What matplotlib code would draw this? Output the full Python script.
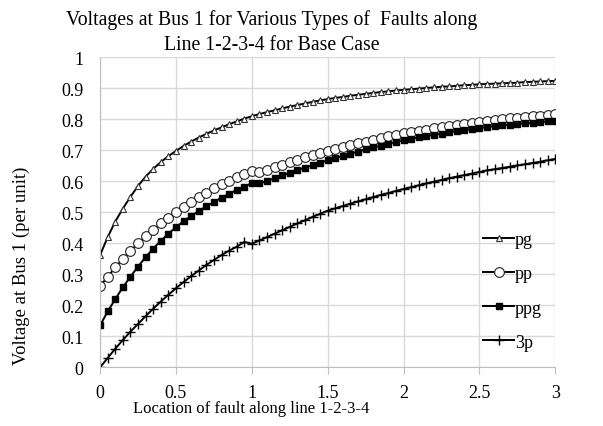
import numpy as np
import matplotlib.pyplot as plt

# fault location along line 1-2-3-4 (every 0.05)
location = np.round(np.arange(61) * 0.05, 2)

pg = [0.362, 0.420, 0.470, 0.512, 0.550, 0.585, 0.615, 0.640, 0.662, 0.681,
      0.698, 0.714, 0.728, 0.741, 0.753, 0.764, 0.774, 0.784, 0.793, 0.802,
      0.810, 0.817, 0.823, 0.829, 0.835, 0.841, 0.846, 0.851, 0.856, 0.861,
      0.865, 0.869, 0.872, 0.876, 0.879, 0.882, 0.885, 0.888, 0.890, 0.893,
      0.895, 0.897, 0.899, 0.901, 0.903, 0.905, 0.906, 0.908, 0.910, 0.911,
      0.913, 0.914, 0.915, 0.916, 0.917, 0.918, 0.920, 0.921, 0.922, 0.923,
      0.924]
pp = [0.262, 0.292, 0.322, 0.350, 0.376, 0.400, 0.423, 0.444, 0.464, 0.483,
      0.501, 0.518, 0.534, 0.549, 0.563, 0.577, 0.590, 0.602, 0.614, 0.625,
      0.634, 0.630, 0.638, 0.646, 0.654, 0.662, 0.670, 0.678, 0.685, 0.692,
      0.699, 0.704, 0.710, 0.716, 0.722, 0.728, 0.734, 0.739, 0.745, 0.750,
      0.755, 0.759, 0.763, 0.767, 0.771, 0.775, 0.779, 0.782, 0.786, 0.789,
      0.792, 0.795, 0.798, 0.800, 0.803, 0.805, 0.808, 0.810, 0.812, 0.815,
      0.817]
ppg = [0.135, 0.180, 0.220, 0.258, 0.292, 0.325, 0.355, 0.383, 0.408, 0.431,
       0.452, 0.471, 0.488, 0.504, 0.519, 0.533, 0.547, 0.560, 0.572, 0.583,
       0.594, 0.593, 0.601, 0.610, 0.619, 0.627, 0.636, 0.644, 0.652, 0.660,
       0.668, 0.675, 0.682, 0.689, 0.696, 0.703, 0.709, 0.715, 0.721, 0.727,
       0.733, 0.737, 0.742, 0.746, 0.750, 0.754, 0.758, 0.762, 0.765, 0.769,
       0.772, 0.775, 0.778, 0.780, 0.783, 0.785, 0.787, 0.789, 0.791, 0.793,
       0.795]
p3 = [0.000, 0.030, 0.060, 0.088, 0.115, 0.140, 0.165, 0.189, 0.212, 0.234,
      0.255, 0.275, 0.294, 0.312, 0.330, 0.346, 0.362, 0.376, 0.389, 0.404,
      0.399, 0.409, 0.420, 0.431, 0.442, 0.453, 0.464, 0.474, 0.485, 0.495,
      0.505, 0.513, 0.520, 0.528, 0.535, 0.542, 0.549, 0.556, 0.562, 0.569,
      0.575, 0.581, 0.587, 0.593, 0.599, 0.604, 0.610, 0.615, 0.620, 0.625,
      0.630, 0.635, 0.639, 0.643, 0.647, 0.651, 0.655, 0.659, 0.663, 0.668,
      0.672]

x_ticks = [0, 0.5, 1, 1.5, 2, 2.5, 3]
x_tick_labels = ['0', '0.5', '1', '1.5', '2', '2.5', '3']
y_ticks = [0, 0.1, 0.2, 0.3, 0.4, 0.5, 0.6, 0.7, 0.8, 0.9, 1]
y_tick_labels = ['0', '0.1', '0.2', '0.3', '0.4', '0.5', '0.6', '0.7', '0.8', '0.9', '1']

plt.rcParams['font.family'] = ['Liberation Serif', 'DejaVu Serif']

fig = plt.figure(figsize=(6.03, 4.27), dpi=100)
ax = fig.add_axes([0.166, 0.1375, 0.755, 0.726])

ax.plot(location, pg, color='black', lw=1.4, marker='^', ms=5,
        mfc='white', mec='#333333', mew=0.8, label='pg')
ax.plot(location, pp, color='black', lw=1.4, marker='o', ms=7,
        mfc='white', mec='#222222', mew=0.8, label='pp')
ax.plot(location, ppg, color='black', lw=1.4, marker='s', ms=5,
        mfc='black', mec='black', label='ppg')
ax.plot(location, p3, color='black', lw=1.4, marker='+', ms=7,
        mew=1.0, label='3p')

ax.set_xlim(0, 3)
ax.set_ylim(0, 1)
ax.set_xticks(x_ticks)
ax.set_xticklabels(x_tick_labels)
ax.set_yticks(y_ticks)
ax.set_yticklabels(y_tick_labels)
ax.grid(True, color='#d9d9d9', lw=1)
ax.set_axisbelow(True)
for side in ['top', 'right']:
    ax.spines[side].set_visible(False)
for side in ['left', 'bottom']:
    ax.spines[side].set_color('#bfbfbf')
ax.tick_params(axis='x', length=5, color='#bfbfbf', labelsize=13, pad=7)
ax.tick_params(axis='y', length=0, labelsize=13, pad=12)

ax.legend(loc='upper left', bbox_to_anchor=(0.822, 0.468), frameon=False,
          fontsize=13, labelspacing=0.95, handlelength=1.7,
          handletextpad=0.05, borderpad=0)

fig.text(0.45, 0.952, 'Voltages at Bus 1 for Various Types of  Faults along',
         ha='center', va='center', fontsize=14.2)
fig.text(0.45, 0.893, 'Line 1-2-3-4 for Base Case',
         ha='center', va='center', fontsize=14.2)
fig.text(0.416, 0.042, 'Location of fault along line 1-2-3-4',
         ha='center', va='center', fontsize=12)
fig.text(0.035, 0.377, 'Voltage at Bus 1 (per unit)', rotation=90,
         ha='center', va='center', fontsize=13.5)

fig.savefig('out.png', dpi=100)
